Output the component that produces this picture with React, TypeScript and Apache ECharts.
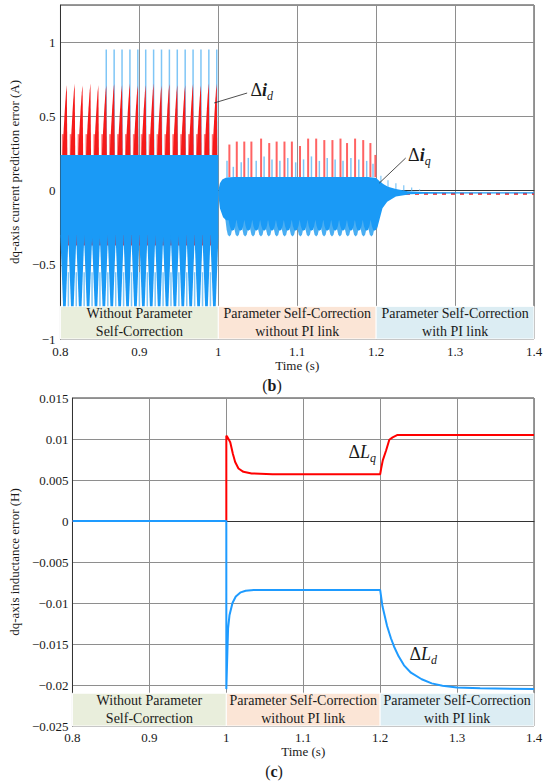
import React, { useEffect, useRef } from "react";
import * as echarts from "echarts";

const SERIF = '"Liberation Serif", "Times New Roman", "DejaVu Serif", serif';

// ---------------- shared ----------------
const regionEdges = [0.8, 1.0, 1.2, 1.4];
const regionNames = [
  "Without Parameter\nSelf-Correction",
  "Parameter Self-Correction\nwithout PI link",
  "Parameter Self-Correction\nwith PI link",
];

// ---------------- (b) current prediction error ----------------
const bBand = [-1, -0.78]; // region label strip (y from, y to)

// Δiq dense envelope, region 1 (upper edge / lower edge of solid part)
const iqEnv1Upper = [[0.8, 0.24], [1.0, 0.24]];
const iqEnv1Lower = [[0.8, -0.3], [1.0, -0.3]];
// Δiq dense envelope, regions 2 and 3
const iqEnv2Upper = [
  [1.0, 0.0], [1.002, 0.05], [1.005, 0.075], [1.01, 0.088], [1.02, 0.092],
  [1.19, 0.092], [1.2, 0.085], [1.205, 0.06], [1.21, 0.04], [1.215, 0.025],
  [1.225, 0.01], [1.24, -0.004], [1.26, -0.01], [1.3, -0.012], [1.4, -0.012],
];
const iqEnv2Lower = [
  [1.0, -0.03], [1.002, -0.12], [1.006, -0.18], [1.01, -0.2], [1.2, -0.2],
  [1.201, -0.26], [1.204, -0.2], [1.208, -0.12], [1.214, -0.075], [1.225, -0.04],
  [1.243, -0.025], [1.26, -0.021], [1.3, -0.02], [1.4, -0.02],
];

// region 1: downward Δiq teeth  [centre, base, tip]
const iqTeeth1 = [
  0.805, 0.815, 0.825, 0.835, 0.845, 0.855, 0.865, 0.875, 0.885, 0.895,
  0.905, 0.915, 0.925, 0.935, 0.945, 0.955, 0.965, 0.975, 0.985, 0.995,
];
const iqTeeth1Range = [-0.3, -0.78];
// region 1: gaps between teeth
const gaps1 = [
  0.81, 0.82, 0.83, 0.84, 0.85, 0.86, 0.87, 0.88, 0.89, 0.9,
  0.91, 0.92, 0.93, 0.94, 0.95, 0.96, 0.97, 0.98, 0.99,
];
const idGapTipRange = [-0.29, -0.37];
const iqGapSpikeRange = [-0.55, -0.78];

// region 1: Δid fins
const idFins = [
  0.808, 0.818, 0.828, 0.838, 0.848, 0.858, 0.868, 0.878, 0.888, 0.898,
  0.908, 0.918, 0.928, 0.938, 0.948, 0.958, 0.968, 0.978, 0.988, 0.998,
];
const idFinPeaks = [
  0.71, 0.72, 0.71, 0.72, 0.71, 0.71, 0.72, 0.71, 0.72, 0.71,
  0.71, 0.72, 0.71, 0.72, 0.71, 0.71, 0.72, 0.71, 0.72, 0.72,
];
const idFinBase = 0.24;
const idMinor1 = [
  0.803, 0.813, 0.823, 0.833, 0.843, 0.853, 0.863, 0.873, 0.883, 0.893,
  0.903, 0.913, 0.923, 0.933, 0.943, 0.953, 0.963, 0.973, 0.983, 0.993,
];
const idMinor1Peak = 0.38;
// region 1: tall Δiq spikes
const iqTall1 = [
  0.858, 0.868, 0.878, 0.888, 0.898, 0.908, 0.918, 0.928, 0.938, 0.948,
  0.958, 0.968, 0.978, 0.988, 0.998,
];
const iqTall1Peak = 0.95;

// region 2: Δiq lobes below band
const iqLobes2 = [
  1.014, 1.024, 1.034, 1.044, 1.054, 1.064, 1.074, 1.084, 1.094, 1.104,
  1.114, 1.124, 1.134, 1.144, 1.154, 1.164, 1.174, 1.184, 1.194,
];
const iqLobes2Range = [-0.19, -0.31];
const iqLobes2DarkTip = -0.27;
// region 2: Δid spikes above band
const idSpikes2 = [
  1.014, 1.0234, 1.0329, 1.0419, 1.0542, 1.0645, 1.0739, 1.0838, 1.0932, 1.1035,
  1.1138, 1.124, 1.1343, 1.1446, 1.1548, 1.1631, 1.1733, 1.1836, 1.1927, 1.199,
];
const idSpikes2Peaks = [
  0.31, 0.33, 0.33, 0.33, 0.35, 0.32, 0.33, 0.33, 0.33, 0.3,
  0.35, 0.35, 0.34, 0.34, 0.35, 0.32, 0.35, 0.34, 0.32, 0.24,
];
const iqSpikes2 = [
  1.011, 1.019, 1.029, 1.038, 1.048, 1.058, 1.068, 1.078, 1.088, 1.098,
  1.108, 1.118, 1.128, 1.138, 1.148, 1.158, 1.168, 1.178, 1.188, 1.196,
];
const iqSpikes2Peaks = [
  0.2, 0.16, 0.19, 0.22, 0.2, 0.23, 0.21, 0.2, 0.22, 0.19,
  0.21, 0.23, 0.2, 0.22, 0.21, 0.2, 0.22, 0.21, 0.2, 0.18,
];
const spikeBase2 = 0.09;
// region 3: decaying Δiq spikes and Δid ripple
const iqSpikes3 = [1.206, 1.215, 1.225, 1.235, 1.245, 1.255];
const iqSpikes3Peaks = [0.1, 0.07, 0.05, 0.035, 0.02, 0.008];
const idTail3 = [[1.215, -0.022], [1.4, -0.022]];

// annotations (b)
const idLeader = [[0.9947, 0.59], [1.0365, 0.657]];
const idLabelAt = [1.04, 0.677];
const iqLeader = [[1.2041, 0.051], [1.2374, 0.219]];
const iqLabelAt = [1.2398, 0.24];

// ---------------- (c) inductance error ----------------
const cBand = [-0.025, -0.021];
const dLq = [
  [0.8, 0], [1.0, 0], [1.0, 0.0104], [1.0017, 0.0102], [1.0051, 0.0096],
  [1.0085, 0.0082], [1.0115, 0.0072], [1.0158, 0.0064], [1.0222, 0.006],
  [1.0329, 0.0058], [1.06, 0.0057], [1.2, 0.0057], [1.2013, 0.0064],
  [1.2034, 0.0074], [1.2077, 0.0086], [1.2119, 0.0099], [1.2162, 0.0102],
  [1.2226, 0.0105], [1.24, 0.0105], [1.3, 0.0105], [1.4, 0.0105],
];
const dLd = [
  [0.8, 0], [1.0, 0], [1.0, -0.0205], [1.0014, -0.0159], [1.0023, -0.0131],
  [1.0041, -0.0115], [1.008, -0.01], [1.0123, -0.0092], [1.0187, -0.0087],
  [1.0251, -0.0085], [1.0358, -0.0084], [1.2, -0.0084], [1.203, -0.0104],
  [1.209, -0.0128], [1.214, -0.0143], [1.218, -0.0153], [1.224, -0.0165],
  [1.231, -0.0176], [1.24, -0.0185], [1.254, -0.0193], [1.267, -0.0198],
  [1.281, -0.0201], [1.3, -0.0203], [1.33, -0.0204], [1.4, -0.0205],
];
const LqLabelAt = [1.1582, 0.0084];
const LdLabelAt = [1.2375, -0.0162];

// ---------------- colours ----------------
const BLUE = "#1a9af6";
const LBLUE = "#7fc6f6";
const RED = "#f51a1a";
const LRED = "#ff5252";
const bandColors = ["#e9eedc", "#fbe5d6", "#dcedf3"];
const GRID = "#8e8e8e";
const TXT = "#1a1a1a";

function polySeries(g: number, build: (api: any) => number[][], fill: string, z: number, opacity = 1) {
  return {
    type: "custom",
    xAxisIndex: g,
    yAxisIndex: g,
    silent: true,
    z,
    data: [[1.0, 0]],
    renderItem: (_p: any, api: any) => ({
      type: "polygon",
      shape: { points: build(api).map((p) => api.coord(p)) },
      style: { fill, opacity },
    }),
  };
}

function shapeSeries(
  g: number,
  rows: number[][],
  shape: (r: number[]) => number[][],
  fill: string,
  z: number,
  opacity = 1
) {
  return {
    type: "custom",
    xAxisIndex: g,
    yAxisIndex: g,
    silent: true,
    z,
    data: rows,
    renderItem: (p: any, api: any) => ({
      type: "polygon",
      shape: { points: shape(rows[p.dataIndex]).map((q) => api.coord(q)) },
      style: { fill, opacity },
    }),
  };
}

function spikeSeries(g: number, rows: number[][], color: string, width: number, z: number, opacity = 1) {
  return {
    type: "custom",
    xAxisIndex: g,
    yAxisIndex: g,
    silent: true,
    z,
    data: rows,
    renderItem: (p: any, api: any) => {
      const r = rows[p.dataIndex];
      const a = api.coord([r[0], r[1]]);
      const b = api.coord([r[0], r[2]]);
      return {
        type: "line",
        shape: { x1: a[0], y1: a[1], x2: b[0], y2: b[1] },
        style: { stroke: color, lineWidth: width, opacity },
      };
    },
  };
}

const vTooth = (r: number[]) => [
  [r[0] - 0.0052, r[1]], [r[0] + 0.0052, r[1]], [r[0] + 0.0017, r[2]], [r[0] - 0.0017, r[2]],
];
const uLobe = (r: number[]) => {
  const d = r[1] - r[2];
  return [
    [r[0] - 0.0052, r[1]], [r[0] + 0.0052, r[1]], [r[0] + 0.0035, r[2] + 0.4 * d],
    [r[0] + 0.002, r[2] + 0.1 * d], [r[0], r[2]], [r[0] - 0.002, r[2] + 0.1 * d],
    [r[0] - 0.0035, r[2] + 0.4 * d],
  ];
};
const fin = (r: number[]) => {
  const h = r[2] - r[1];
  return [
    [r[0] - 0.0055, r[1]], [r[0] - 0.004, r[1] + 0.35 * h], [r[0] - 0.0025, r[1] + 0.65 * h],
    [r[0] - 0.001, r[1] + 0.9 * h], [r[0], r[2]], [r[0] + 0.0007, r[1]],
  ];
};

function bandSeries(g: number, range: number[]) {
  return {
    type: "line",
    xAxisIndex: g,
    yAxisIndex: g,
    data: [],
    silent: true,
    z: 30,
    markArea: {
      silent: true,
      itemStyle: { borderColor: "#ffffff", borderWidth: 1 },
      label: {
        show: true,
        position: "inside",
        color: TXT,
        fontFamily: SERIF,
        fontSize: 14,
        lineHeight: 18,
      },
      data: regionNames.map((n, i) => [
        { name: n, xAxis: regionEdges[i], yAxis: range[0], itemStyle: { color: bandColors[i] } },
        { xAxis: regionEdges[i + 1], yAxis: range[1] },
      ]),
    },
  };
}

function leaderSeries(g: number, pts: number[][]) {
  return {
    type: "line",
    xAxisIndex: g,
    yAxisIndex: g,
    data: pts,
    silent: true,
    symbol: "none",
    z: 40,
    lineStyle: { color: "#222", width: 0.8 },
  };
}

function labelSeries(g: number, at: number[], main: string, sub: string, mainStyle: any) {
  return {
    type: "scatter",
    xAxisIndex: g,
    yAxisIndex: g,
    data: [at],
    silent: true,
    symbolSize: 1,
    itemStyle: { color: "rgba(0,0,0,0)" },
    z: 41,
    label: {
      show: true,
      position: "right",
      distance: 0,
      opacity: 1,
      formatter: `{a|Δ}{m|${main}}{s|${sub}}`,
      rich: {
        a: { fontFamily: SERIF, fontSize: 18, lineHeight: 24, color: TXT },
        m: { fontFamily: SERIF, fontSize: 18, lineHeight: 24, color: TXT, fontStyle: "italic", ...mainStyle },
        s: { fontFamily: SERIF, fontSize: 12, lineHeight: 12, color: TXT, fontStyle: "italic", verticalAlign: "bottom" },
      },
    },
  };
}

const minus = (s: string) => s.replace("-", "\u2212");

function xAxisFor(g: number, nameGap: number, margin: number) {
  return {
    type: "value",
    gridIndex: g,
    min: 0.8,
    max: 1.4,
    interval: 0.1,
    name: "Time (s)",
    nameLocation: "middle",
    nameGap,
    nameTextStyle: { fontFamily: SERIF, fontSize: 13, color: TXT },
    axisLine: { show: true, lineStyle: { color: "#333", width: 1 } },
    axisTick: { show: false },
    axisLabel: {
      fontFamily: SERIF,
      fontSize: 13,
      color: TXT,
      margin,
      formatter: (v: number) => String(Math.round(v * 10) / 10),
    },
    splitLine: { show: true, lineStyle: { color: GRID, width: 1 } },
  };
}

export default function App() {
  const ref = useRef<HTMLDivElement>(null);
  useEffect(() => {
    if (!ref.current) return;
    const chart = echarts.init(ref.current, undefined, { renderer: "svg" });

    const series: any[] = [
      // ----- (b) -----
      spikeSeries(0, idMinor1.map((t) => [t, idFinBase, idMinor1Peak]), LRED, 2, 2, 0.8),
      spikeSeries(0, iqTall1.map((t) => [t, idFinBase, iqTall1Peak]), LBLUE, 1.5, 3),
      shapeSeries(0, idFins.map((t, i) => [t, idFinBase, idFinPeaks[i]]), fin, RED, 4),
      spikeSeries(0, gaps1.map((t) => [t, idGapTipRange[0], idGapTipRange[1]]), RED, 2, 4),
      spikeSeries(0, gaps1.map((t) => [t, iqGapSpikeRange[0], iqGapSpikeRange[1]]), LBLUE, 1.5, 4),
      polySeries(0, () => [...iqEnv1Upper, ...iqEnv1Lower.slice().reverse()], BLUE, 5),
      shapeSeries(0, iqTeeth1.map((t) => [t, iqTeeth1Range[0], iqTeeth1Range[1]]), vTooth, BLUE, 5),
      spikeSeries(0, idSpikes2.map((t, i) => [t, spikeBase2, idSpikes2Peaks[i]]), LRED, 2, 3, 0.9),
      spikeSeries(0, iqSpikes2.map((t, i) => [t, spikeBase2, iqSpikes2Peaks[i]]), LBLUE, 1.5, 3),
      spikeSeries(0, iqSpikes3.map((t, i) => [t, 0, iqSpikes3Peaks[i]]), LBLUE, 1.2, 3),
      {
        type: "line",
        xAxisIndex: 0,
        yAxisIndex: 0,
        data: idTail3,
        silent: true,
        symbol: "none",
        z: 4,
        lineStyle: { color: RED, width: 2, type: [4, 5] },
      },
      shapeSeries(0, iqLobes2.map((t) => [t, iqLobes2Range[0], iqLobes2Range[1]]), uLobe, "#4aaef2", 5),
      shapeSeries(0, iqLobes2.map((t) => [t + 0.004, iqLobes2Range[0], iqLobes2DarkTip]), uLobe, BLUE, 6),
      polySeries(0, () => [...iqEnv2Upper, ...iqEnv2Lower.slice().reverse()], BLUE, 6),
      bandSeries(0, bBand),
      leaderSeries(0, idLeader),
      leaderSeries(0, iqLeader),
      labelSeries(0, idLabelAt, "i", "d", { fontWeight: "bold" }),
      labelSeries(0, iqLabelAt, "i", "q", { fontWeight: "bold" }),
      // ----- (c) -----
      {
        type: "line",
        xAxisIndex: 1,
        yAxisIndex: 1,
        data: dLq,
        silent: true,
        symbol: "none",
        z: 5,
        lineStyle: { color: "#ff0000", width: 2 },
      },
      {
        type: "line",
        xAxisIndex: 1,
        yAxisIndex: 1,
        data: dLd,
        silent: true,
        symbol: "none",
        z: 6,
        lineStyle: { color: "#1e9bff", width: 2 },
      },
      bandSeries(1, cBand),
      labelSeries(1, LqLabelAt, "L", "q", {}),
      labelSeries(1, LdLabelAt, "L", "d", {}),
    ];

    chart.setOption({
      animation: false,
      backgroundColor: "#ffffff",
      grid: [
        { left: 47, top: 5, width: 487, height: 334, show: true, borderColor: "#333", borderWidth: 1 },
        { left: 65, top: 398, width: 469, height: 328, show: true, borderColor: "#333", borderWidth: 1 },
      ],
      xAxis: [xAxisFor(0, 17, 6), xAxisFor(1, 17, 5)],
      yAxis: [
        {
          type: "value",
          gridIndex: 0,
          min: -1,
          max: 1.25,
          interval: 0.5,
          name: "dq-axis current prediction error (A)",
          nameLocation: "middle",
          nameGap: 30,
          nameTextStyle: { fontFamily: SERIF, fontSize: 13, color: TXT },
          axisLine: { show: true, lineStyle: { color: "#333", width: 1 } },
          axisTick: { show: false },
          axisLabel: {
            fontFamily: SERIF,
            fontSize: 13,
            color: TXT,
            margin: 5,
            formatter: (v: number) =>
              Math.abs(v * 2 - Math.round(v * 2)) > 1e-6 ? "" : minus(String(Math.round(v * 10) / 10)),
          },
          splitLine: { show: true, lineStyle: { color: GRID, width: 1 } },
        },
        {
          type: "value",
          gridIndex: 1,
          min: -0.025,
          max: 0.015,
          interval: 0.005,
          name: "dq-axis inductance error (H)",
          nameLocation: "middle",
          nameGap: 48,
          nameTextStyle: { fontFamily: SERIF, fontSize: 13, color: TXT },
          axisLine: { show: true, lineStyle: { color: "#333", width: 1 } },
          axisTick: { show: false },
          axisLabel: {
            fontFamily: SERIF,
            fontSize: 13,
            color: TXT,
            margin: 4,
            formatter: (v: number) => minus(String(Math.round(v * 1000) / 1000)),
          },
          splitLine: { show: true, lineStyle: { color: GRID, width: 1 } },
        },
      ],
      graphic: [
        {
          type: "text",
          x: 272,
          y: 385,
          style: {
            text: "{p|(}{b|b}{p|)}",
            align: "center",
            verticalAlign: "middle",
            rich: {
              p: { fontFamily: SERIF, fontSize: 16, fill: TXT },
              b: { fontFamily: SERIF, fontSize: 16, fontWeight: "bold", fill: TXT },
            },
          },
        },
        {
          type: "text",
          x: 274,
          y: 771,
          style: {
            text: "{p|(}{b|c}{p|)}",
            align: "center",
            verticalAlign: "middle",
            rich: {
              p: { fontFamily: SERIF, fontSize: 16, fill: TXT },
              b: { fontFamily: SERIF, fontSize: 16, fontWeight: "bold", fill: TXT },
            },
          },
        },
      ],
      series,
    });
    return () => chart.dispose();
  }, []);
  return (
    <div
      ref={ref}
      style={{ position: "fixed", left: 0, top: 0, width: 550, height: 781, background: "#fff" }}
    />
  );
}
